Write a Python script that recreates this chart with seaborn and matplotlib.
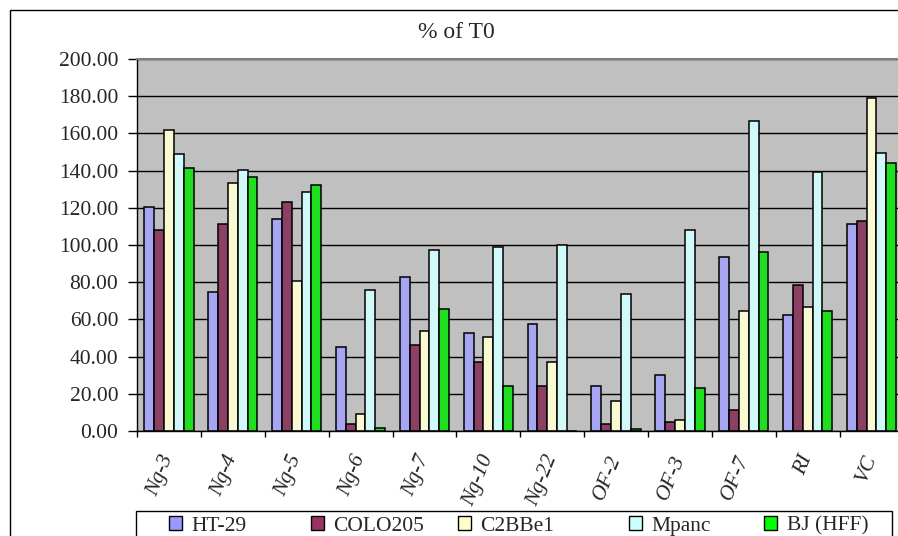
import pandas as pd
import seaborn as sns
import matplotlib.pyplot as plt
from matplotlib.patches import Patch, Rectangle

# data
categories = ['Ng-3', 'Ng-4', 'Ng-5', 'Ng-6', 'Ng-7', 'Ng-10', 'Ng-22',
              'OF-2', 'OF-3', 'OF-7', 'RI', 'VC']
series = ['HT-29', 'COLO205', 'C2BBe1', 'Mpanc', 'BJ (HFF)']
ht29 = [120.4, 74.8, 114.1, 45.4, 82.9, 52.6, 57.6, 24.2, 30.1, 93.8, 62.4, 111.2]
colo205 = [107.8, 111.2, 123.2, 3.8, 46.5, 37.3, 24.2, 3.8, 4.8, 11.3, 78.6, 113.0]
c2bbe1 = [161.6, 133.5, 80.9, 9.1, 53.5, 50.6, 37.3, 16.0, 6.1, 64.6, 66.7, 178.9]
mpanc = [148.7, 140.3, 128.3, 75.7, 97.1, 99.0, 100.1, 73.9, 107.8, 166.8, 139.2, 149.4]
bj_hff = [141.4, 136.5, 132.4, 1.8, 65.8, 24.2, 0.0, 1.0, 23.1, 96.0, 64.4, 144.2]
colors = ['#9999FF', '#993366', '#FFFFCC', '#CCFFFF', '#00FF00']

values = [ht29, colo205, c2bbe1, mpanc, bj_hff]
rows = []
for s, vals in zip(series, values):
    for c, v in zip(categories, vals):
        rows.append({'cat': c, 'series': s, 'value': v})
df = pd.DataFrame(rows)

sns.set_style("white")
plt.rcParams['font.family'] = ['Liberation Serif', 'DejaVu Serif']

fig = plt.figure(figsize=(8.98, 5.36), dpi=100)
# plot area runs past the right edge of the picture, as in the original
ax = fig.add_axes([137 / 898, 105 / 536, 766.5 / 898, 372 / 536])

sns.barplot(data=df, x='cat', y='value', hue='series', order=categories,
            hue_order=series, palette=colors, width=0.77, errorbar=None,
            edgecolor='black', linewidth=1.1, legend=False, ax=ax)

ax.set_facecolor('#C0C0C0')
ax.set_ylim(0, 200)
ax.set_xlim(-0.5, len(categories) - 0.5)
ax.set_yticks(range(0, 201, 20))
ax.set_yticklabels([f'{v:.2f}' for v in range(0, 201, 20)], fontsize=15.5)
ax.grid(axis='y', color='black', linewidth=1)
ax.set_axisbelow(True)
ax.set_xlabel('')
ax.set_ylabel('')

ax.set_xticks(range(len(categories)))
ax.set_xticklabels(categories, rotation=68, ha='right', va='center',
                   rotation_mode='anchor', style='italic', fontsize=15.5)
ax.set_xticks([i - 0.5 for i in range(len(categories) + 1)], minor=True)
ax.tick_params(axis='x', which='major', length=0, pad=18)
ax.tick_params(axis='x', which='minor', length=4.5, width=1, color='black',
               direction='out', bottom=True)
ax.tick_params(axis='y', length=6.5, width=1, color='black', pad=7,
               direction='out', left=True)

for side in ['left', 'bottom']:
    ax.spines[side].set_color('black')
    ax.spines[side].set_linewidth(1)
for side in ['top', 'right']:
    ax.spines[side].set_color('#808080')
    ax.spines[side].set_linewidth(1.5)

fig.text(456 / 898, 1 - 33 / 536, '% of T0', ha='center', va='center',
         fontsize=17)

# outer chart frame
fig.patches.append(Rectangle((10 / 898, -0.1), 1.2, 1 - 10 / 536 + 0.1,
                             transform=fig.transFigure, fill=False,
                             edgecolor='black', linewidth=1))

# legend frame, cut by the bottom edge like the original
fig.patches.append(Rectangle((136 / 898, -0.1), (892 - 136) / 898,
                             (536 - 511) / 536 + 0.1,
                             transform=fig.transFigure, fill=True,
                             facecolor='white', edgecolor='black',
                             linewidth=1))

legend_x = [169, 311, 458, 629, 764]
for s, c, x in zip(series, colors, legend_x):
    h = Patch(facecolor=c, edgecolor='black', linewidth=1)
    fig.legend([h], [s], loc='center left',
               bbox_to_anchor=(x / 898, (536 - 526) / 536),
               fontsize=15.5, frameon=False, handlelength=0.6,
               handleheight=0.6, handletextpad=0.45, borderpad=0,
               borderaxespad=0)

plt.savefig('out.png', dpi=100)
